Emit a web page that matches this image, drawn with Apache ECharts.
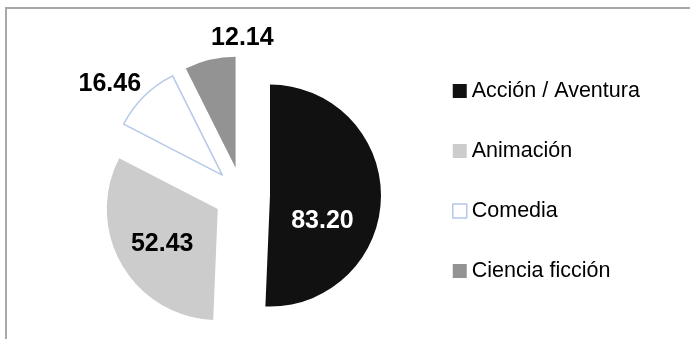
<!DOCTYPE html>
<html>
<head>
<meta charset="utf-8">
<script src="https://cdn.jsdelivr.net/npm/echarts@6/dist/echarts.min.js"></script>
<style>
  html, body { margin: 0; padding: 0; background: #fff; }
  #chart { width: 690px; height: 339px; }
</style>
</head>
<body>
<div id="chart"></div>
<script>
// Genres and their values
const categories = ['Acción / Aventura', 'Animación', 'Comedia', 'Ciencia ficción'];
const values = [83.20, 52.43, 16.46, 12.14];
const fills = ['#111111', '#cccccc', '#ffffff', '#939393'];
const borders = ['#111111', '#cccccc', '#b4c8e8', '#939393'];
const labelColors = ['#ffffff', '#000000', '#000000', '#000000'];
// Nudges applied to each value label from its default spot
const labelNudges = [[-6, 24], [-5, 6], [6, -8], [70, -16]];

const labelFont = "'Liberation Sans', Arial, sans-serif";

const chart = echarts.init(document.getElementById('chart'));

const seriesData = categories.map((name, i) => ({
  name: name,
  value: values[i],
  selected: true,
  itemStyle: { color: fills[i], borderColor: borders[i], borderWidth: i === 2 ? 1.5 : 0 },
  label: {
    color: labelColors[i],
    position: i >= 2 ? 'outside' : 'inside'
  }
}));

chart.setOption({
  animation: false,
  graphic: [{
    type: 'rect',
    shape: { x: 6, y: 8, width: 720, height: 360 },
    style: { fill: 'none', stroke: '#a8a8a8', lineWidth: 2 },
    silent: true
  }],
  legend: {
    orient: 'vertical',
    left: 452,
    top: 80,
    padding: 0,
    itemWidth: 14,
    itemHeight: 14,
    itemGap: 38,
    icon: 'rect',
    selectedMode: false,
    textStyle: { fontFamily: labelFont, fontSize: 21.5, color: '#000' },
    data: categories.map((name, i) => ({
      name: name,
      itemStyle: { color: fills[i], borderColor: borders[i], borderWidth: i === 2 ? 1.5 : 0 }
    }))
  },
  series: [{
    type: 'pie',
    center: [242, 195],
    radius: [0, 111],
    startAngle: 90,
    clockwise: true,
    selectedMode: 'multiple',
    selectedOffset: 28,
    emphasis: { disabled: true },
    label: {
      show: true,
      formatter: p => p.value.toFixed(2),
      fontFamily: labelFont,
      fontWeight: 'bold',
      fontSize: 25
    },
    labelLine: { show: false, length: 6, length2: 0 },
    labelLayout: p => ({ dx: labelNudges[p.dataIndex][0], dy: labelNudges[p.dataIndex][1] }),
    data: seriesData
  }]
});
</script>
</body>
</html>
